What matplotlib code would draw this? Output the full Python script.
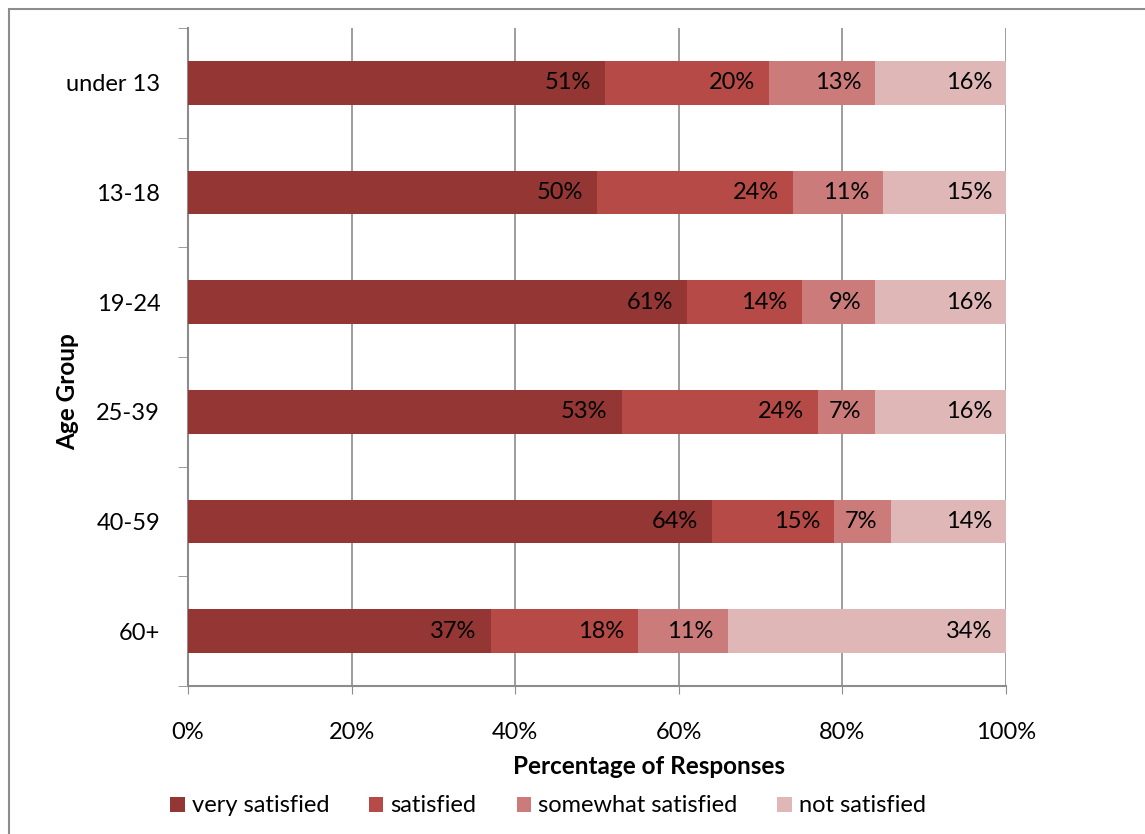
import matplotlib.pyplot as plt
import matplotlib.patches as mpatches
import numpy as np

plt.rcParams['font.family'] = ['Lato', 'DejaVu Sans']

# datos
age_groups = ['under 13', '13-18', '19-24', '25-39', '40-59', '60+']
very_satisfied = [51, 50, 61, 53, 64, 37]
satisfied = [20, 24, 14, 24, 15, 18]
somewhat_satisfied = [13, 11, 9, 7, 7, 11]
not_satisfied = [16, 15, 16, 16, 14, 34]
series_names = ['very satisfied', 'satisfied', 'somewhat satisfied', 'not satisfied']
colors = ['#943634', '#B64A47', '#CB7B7A', '#DFB7B7']
x_ticks = [0, 20, 40, 60, 80, 100]

series = [very_satisfied, satisfied, somewhat_satisfied, not_satisfied]

fig = plt.figure(figsize=(11.45, 8.34), dpi=100)
ax = fig.add_axes([188/1145, 1-686/834, (1006-188)/1145, (686-28)/834])

# marco exterior del grafico
fig.patches.append(mpatches.Rectangle((9/1145, -0.05), 1.1, 1-9/834+0.05,
                                      transform=fig.transFigure, fill=False,
                                      edgecolor='#8c8c8c', linewidth=1.5))

y = np.arange(len(age_groups))
left = np.zeros(len(age_groups))
for vals, name, col in zip(series, series_names, colors):
    vals = np.array(vals, dtype=float)
    ax.barh(y, vals, left=left, height=0.4, color=col, label=name, zorder=3)
    for yi, l, v in zip(y, left, vals):
        ax.annotate(f'{int(v)}%', xy=(l + v, yi), xytext=(-14, 0),
                    textcoords='offset pixels', ha='right', va='center',
                    fontsize=17, color='black', zorder=4)
    left += vals

ax.set_xlim(0, 100)
ax.set_ylim(len(age_groups) - 0.5, -0.5)
ax.set_xticks(x_ticks)
ax.set_xticklabels([f'{t}%' for t in x_ticks], fontsize=17)
ax.set_yticks(y)
ax.set_yticklabels(age_groups, fontsize=17)
ax.set_yticks(np.arange(-0.5, len(age_groups), 1), minor=True)
ax.tick_params(axis='y', which='major', length=0, pad=20)
ax.tick_params(axis='y', which='minor', length=7, color='#8c8c8c', direction='out')
ax.tick_params(axis='x', which='major', length=6, color='#8c8c8c', direction='out', pad=20)

ax.grid(axis='x', color='#8c8c8c', linewidth=1.2, zorder=0)
for s in ['top', 'right']:
    ax.spines[s].set_visible(False)
for s in ['left', 'bottom']:
    ax.spines[s].set_color('#8c8c8c')
    ax.spines[s].set_linewidth(1.5)

ax.set_xlabel('Percentage of Responses', fontsize=17.5, fontweight='bold')
ax.xaxis.set_label_coords((649-188)/818, (686-766)/658)
ax.xaxis.label.set_va('center')
ax.set_ylabel('Age Group', fontsize=17.5, fontweight='bold')
ax.yaxis.set_label_coords((68-188)/818, (686-392)/658)
ax.yaxis.label.set_va('center')

leg = fig.legend(loc='center', bbox_to_anchor=(548/1145, 1-806/834), ncol=4,
                 frameon=False, fontsize=17, handlelength=0.6, handleheight=0.6,
                 handletextpad=0.3, columnspacing=1.7)

fig.savefig('out.png', dpi=100)
